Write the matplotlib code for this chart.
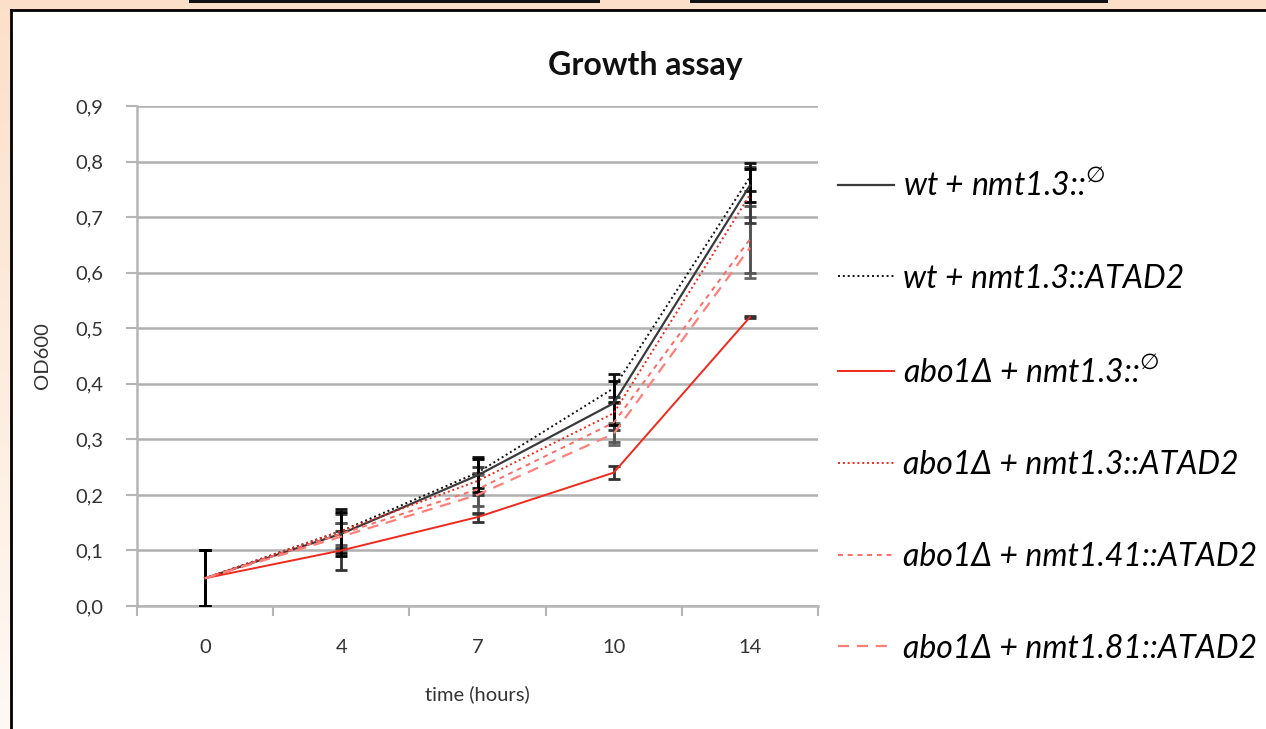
import matplotlib

matplotlib.use("Agg")
import matplotlib.pyplot as plt  # noqa: E402
import numpy as np  # noqa: E402
from matplotlib.patches import Rectangle  # noqa: E402

plt.rcParams["font.family"] = ["Lato", "DejaVu Sans"]

TIMES = ["0", "4", "7", "10", "14"]
LABELS = [
    "wt + nmt1.3::$^{\\emptyset}$",
    "wt + nmt1.3::ATAD2",
    "abo1Δ + nmt1.3::$^{\\emptyset}$",
    "abo1Δ + nmt1.3::ATAD2",
    "abo1Δ + nmt1.41::ATAD2",
    "abo1Δ + nmt1.81::ATAD2",
]
OD_WT_EMPTY = [0.05, 0.13, 0.235, 0.365, 0.757]
OD_WT_ATAD2 = [0.05, 0.135, 0.24, 0.392, 0.772]
OD_ABO_EMPTY = [0.05, 0.10, 0.16, 0.24, 0.52]
OD_ABO_13 = [0.05, 0.135, 0.225, 0.347, 0.74]
OD_ABO_41 = [0.05, 0.13, 0.21, 0.33, 0.66]
OD_ABO_81 = [0.05, 0.125, 0.20, 0.31, 0.645]
ERR_WT_EMPTY = [0.05, 0.04, 0.03, 0.04, 0.03]
ERR_WT_ATAD2 = [0.05, 0.04, 0.028, 0.025, 0.025]
ERR_ABO_EMPTY = [0.05, 0.035, 0.008, 0.012, 0.002]
ERR_ABO_13 = [0.05, 0.03, 0.025, 0.03, 0.05]
ERR_ABO_41 = [0.05, 0.02, 0.03, 0.035, 0.06]
ERR_ABO_81 = [0.05, 0.025, 0.035, 0.02, 0.055]

SERIES = [OD_WT_EMPTY, OD_WT_ATAD2, OD_ABO_EMPTY, OD_ABO_13, OD_ABO_41, OD_ABO_81]
ERRORS = [ERR_WT_EMPTY, ERR_WT_ATAD2, ERR_ABO_EMPTY, ERR_ABO_13, ERR_ABO_41, ERR_ABO_81]
STYLES = [
    dict(color="#3a3a3a", ls="-", lw=1.6),
    dict(color="#111111", ls=(0, (1, 1.5)), lw=1.4),
    dict(color="#f0291c", ls="-", lw=1.4),
    dict(color="#f0291c", ls=(0, (1, 1.5)), lw=1.4),
    dict(color="#ff6a66", ls=(0, (2.5, 2.5)), lw=1.4),
    dict(color="#ff7f7a", ls=(0, (5, 3.5)), lw=1.6),
]
ECOLORS = ["#000000", "#111111", "#333333", "#3a3a3a", "#555555", "#666666"]

W, H = 1266, 729
fig = plt.figure(figsize=(W / 100, H / 100), dpi=100)

# background: peach gradient, white framed panel, bits of boxes at the top
bg = fig.add_axes([0, 0, 1, 1])
grad = np.linspace(0, 1, 256)[:, None]
top = np.array([0.988, 0.878, 0.790])
bottom = np.array([1.0, 0.975, 0.955])
img = top[None, None, :] * (1 - grad[..., None]) + bottom[None, None, :] * grad[..., None]
bg.imshow(img, extent=[0, 1, 0, 1], aspect="auto", origin="upper")
bg.add_patch(Rectangle((11 / W, 0), 1, 1 - 10 / H, facecolor="white", edgecolor="none"))
bg.plot([11 / W, 11 / W], [0, 1 - 10 / H], color="black", lw=2)
bg.plot([11 / W, 1], [1 - 10 / H, 1 - 10 / H], color="black", lw=2)
for x0, x1 in [(189, 600), (690, 1108)]:
    bg.add_patch(Rectangle((x0 / W, 1 - 3 / H), (x1 - x0) / W, 0.1, facecolor="#111111",
                           edgecolor="none"))
bg.set_xlim(0, 1)
bg.set_ylim(0, 1)
bg.axis("off")

ax = fig.add_axes([137 / W, 1 - 606 / H, (818 - 137) / W, 500 / H])
ax.set_facecolor("none")
x = np.arange(len(TIMES))
# error bars drawn back to front so the first series ends up on top
for i in reversed(range(len(SERIES))):
    ax.errorbar(x, SERIES[i], yerr=ERRORS[i], fmt="none", ecolor=ECOLORS[i],
                elinewidth=2.0, capsize=4, capthick=2.0, zorder=3)
handles = []
for vals, style, label in zip(SERIES, STYLES, LABELS):
    (ln,) = ax.plot(x, vals, label=label, zorder=4, **style)
    handles.append(ln)

ax.set_xlim(-0.5, len(TIMES) - 0.5)
ax.set_ylim(0, 0.9)
ax.set_yticks(np.arange(0, 0.91, 0.1))
ax.set_yticklabels([f"{v:.1f}".replace(".", ",") for v in np.arange(0, 0.91, 0.1)])
ax.set_xticks(x)
ax.set_xticklabels(TIMES)
ax.set_xticks(np.arange(-0.5, len(TIMES)), minor=True)
ax.tick_params(axis="x", which="major", length=0, pad=24, labelsize=14.5, labelcolor="#333333")
ax.tick_params(axis="x", which="minor", length=7, width=1.5, color="#b5b5b5")
ax.tick_params(axis="y", length=8, width=1.5, color="#b5b5b5", pad=16,
               labelsize=14.5, labelcolor="#333333")
ax.grid(axis="y", color="#b0b0b0", lw=1.8, zorder=0)
ax.set_axisbelow(True)
for side in ("top", "right"):
    ax.spines[side].set_visible(False)
for side in ("left", "bottom"):
    ax.spines[side].set_color("#b5b5b5")
    ax.spines[side].set_linewidth(1.8)

ax.set_xlabel("time (hours)", fontsize=14.5, color="#333333", labelpad=21)
ax.set_ylabel("OD600", fontsize=14.5, color="#333333", labelpad=18)
fig.text(0.51, 1 - 65 / H, "Growth assay", ha="center", va="center",
         fontsize=23, fontweight="bold", color="#111111")

fig.legend(handles=handles, labels=LABELS, loc="center left",
           bbox_to_anchor=(838 / W, 1 - 416 / H), frameon=False, borderpad=0,
           borderaxespad=0, handlelength=1.75, handletextpad=0.3, labelspacing=1.93,
           prop=dict(style="italic", size=23))

fig.savefig("out.png", dpi=100)
